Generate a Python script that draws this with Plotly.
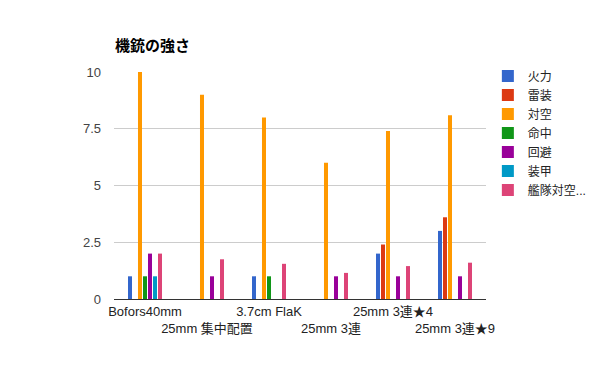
import plotly.graph_objects as go

categories = ["Bofors40mm", "25mm 集中配置", "3.7cm FlaK", "25mm 3連", "25mm 3連★4", "25mm 3連★9"]
tick_labels = ["Bofors40mm", "<br>25mm 集中配置", "3.7cm FlaK", "<br>25mm 3連", "25mm 3連★4", "<br>25mm 3連★9"]

series_names = ["火力", "雷装", "対空", "命中", "回避", "装甲", "艦隊対空..."]
firepower = [1, 0, 1, 0, 2, 3]
torpedo = [0, 0, 0, 0, 2.4, 3.6]
antiair = [10, 9, 8, 6, 7.4, 8.1]
accuracy = [1, 0, 1, 0, 0, 0]
evasion = [2, 1, 0, 1, 1, 1]
armor = [1, 0, 0, 0, 0, 0]
fleet_aa = [2, 1.75, 1.55, 1.15, 1.45, 1.6]

series_values = [firepower, torpedo, antiair, accuracy, evasion, armor, fleet_aa]
colors = ["#3366cc", "#dc3912", "#ff9900", "#109618", "#990099", "#0099c6", "#dd4477"]

font_family = "Liberation Sans, Arial, Noto Sans CJK JP, sans-serif"

# the page body adds an 8px offset, so the figure is 8px smaller and shifted
W, H = 592, 363

fig = go.Figure()
for name, vals, col in zip(series_names, series_values, colors):
    fig.add_trace(go.Bar(x=categories, y=vals, name=name, marker=dict(color=col, line=dict(width=0))))

fig.update_layout(
    width=W, height=H,
    barmode="group",
    bargap=0.435,
    bargroupgap=0.2,
    plot_bgcolor="white",
    paper_bgcolor="white",
    margin=dict(l=106, r=114, t=64, b=72, autoexpand=False),
    font=dict(family=font_family, size=13, color="#222222"),
    title=dict(text="<b>機銃の強さ</b>", x=107/W, xanchor="left", xref="container",
               y=1 - 38/H, yanchor="middle", yref="container",
               font=dict(family="Liberation Sans, Noto Sans CJK JP, sans-serif", size=15, color="#000000"),
               automargin=False),
    legend=dict(x=1.005, xanchor="left", y=1.046, yanchor="top",
                font=dict(size=12, color="#222222"), tracegroupgap=0,
                itemwidth=30, bgcolor="rgba(0,0,0,0)"),
    showlegend=True,
)
fig.update_xaxes(tickmode="array", tickvals=categories, ticktext=tick_labels, tickangle=0,
                 automargin=False,
                 showgrid=False, showline=True, linecolor="#333333", linewidth=1,
                 ticks="", tickfont=dict(size=13, color="#222222"))
fig.update_yaxes(range=[0, 10], tickvals=[0, 2.5, 5, 7.5, 10], ticktext=["0", "2.5", "5", "7.5", "10"],
                 automargin=False,
                 showgrid=True, gridcolor="#cccccc", gridwidth=1, zeroline=False,
                 ticks="", ticklabelstandoff=12, tickfont=dict(size=13, color="#444444"))

fig.write_html("out.html")
